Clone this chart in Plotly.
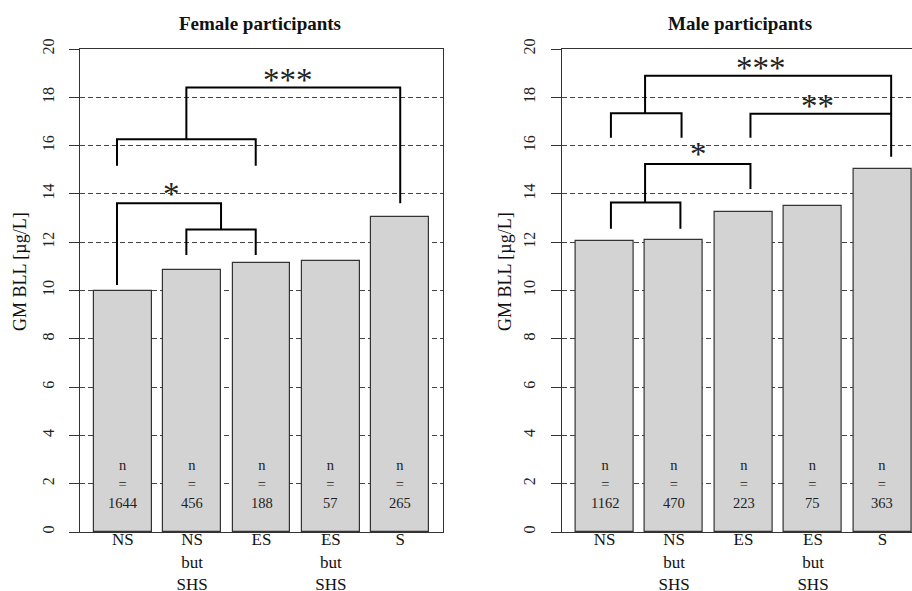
import plotly.graph_objects as go

# ---------------- data ----------------
categories = ["NS", "NS<br>but<br>SHS", "ES", "ES<br>but<br>SHS", "S"]
bar_pos = [0.7, 1.9, 3.1, 4.3, 5.5]

female_gm = [10.0, 10.85, 11.13, 11.24, 13.06]
female_n = [1644, 456, 188, 57, 265]
male_gm = [12.04, 12.09, 13.25, 13.50, 15.03]
male_n = [1162, 470, 223, 75, 363]

# brackets: [x_left, x_right, y_top, y_left_end, y_right_end]
female_brackets = [
    [0.6, 3.0, 16.26, 15.17, 15.17],
    [1.8, 5.5, 18.41, 16.26, 13.61],
    [1.8, 3.0, 12.53, 11.47, 11.47],
    [0.6, 2.4, 13.61, 10.23, 12.53],
]
female_stars = [["***", 3.55, 18.71], ["*", 1.55, 13.99]]

male_brackets = [
    [0.81, 2.03, 17.34, 16.33, 16.33],
    [1.40, 5.65, 18.89, 17.34, 15.54],
    [3.22, 5.65, 17.32, 16.33, 17.32],
    [0.81, 2.01, 13.64, 12.56, 12.56],
    [1.40, 3.22, 15.24, 13.64, 14.20],
]
male_stars = [["***", 3.41, 19.23], ["**", 4.37, 17.65], ["*", 2.32, 15.64]]

y_ticks = list(range(0, 21, 2))

FONT = "Liberation Serif"
W, H = 912, 591


def px(sx):        # screen x -> paper fraction
    return sx / W


def py(sy):        # screen y -> paper fraction
    return 1 - sy / H


fig = go.Figure()

panels = [
    ("x", "y", female_gm, female_n, female_brackets, female_stars),
    ("x2", "y2", male_gm, male_n, male_brackets, male_stars),
]
for xa, ya, gm, ns, brs, stars in panels:
    fig.add_trace(go.Bar(
        x=bar_pos, y=gm, width=1.0, xaxis=xa, yaxis=ya,
        marker=dict(color="#d3d3d3", line=dict(color="#333333", width=1.2)),
        showlegend=False, hoverinfo="skip"))
    for b in brs:
        xl, xr, yt, yle, yre = b
        fig.add_trace(go.Scatter(
            x=[xl, xl, xr, xr], y=[yle, yt, yt, yre], mode="lines",
            xaxis=xa, yaxis=ya, line=dict(color="black", width=2),
            showlegend=False, hoverinfo="skip"))
    for x, n in zip(bar_pos, ns):
        fig.add_annotation(x=x, y=2.0, xref=xa, yref=ya, text=f"n<br>=<br>{n}",
                           showarrow=False, yanchor="middle", xanchor="center",
                           font=dict(family=FONT, size=14.5, color="#222"))
    for s, x, y in stars:
        fig.add_annotation(x=x, y=y, xref=xa, yref=ya, text=s, showarrow=False,
                           yanchor="middle", xanchor="center",
                           font=dict(family=FONT, size=33, color="#222"))

ydom = [py(532), py(49)]
common_x = dict(tickvals=bar_pos, ticktext=categories, ticks="", showgrid=False,
                zeroline=False, showline=True, linecolor="#333333", linewidth=1,
                automargin=False, ticklabelstandoff=-8,
                tickfont=dict(family=FONT, size=17, color="#111"))
common_y = dict(range=[0, 20], tickvals=y_ticks, ticks="outside", ticklen=10,
                tickcolor="#333333", tickangle=-90, showgrid=True, gridcolor="#444444",
                griddash="5px,3px", gridwidth=1, zeroline=False, showline=True,
                linecolor="#333333", linewidth=1, automargin=False, ticklabelstandoff=9,
                tickfont=dict(family=FONT, size=16, color="#222"))

fig.update_layout(
    width=W, height=H, margin=dict(l=0, r=0, t=0, b=0, autoexpand=False),
    paper_bgcolor="white", plot_bgcolor="white",
    xaxis=dict(domain=[px(80), px(443)], range=[-0.04, 6.24], anchor="y", mirror=True, **common_x),
    yaxis=dict(domain=ydom, anchor="x", mirror=True, **common_y),
    xaxis2=dict(domain=[px(561.7), 1.0], range=[-0.04, 6.01], anchor="y2", mirror=True, **common_x),
    yaxis2=dict(domain=ydom, anchor="x2", mirror=False, **common_y),
    bargap=0,
)

for title, sx in [("Female participants", 260), ("Male participants", 740)]:
    fig.add_annotation(x=px(sx), y=py(23), xref="paper", yref="paper",
                       xanchor="center", yanchor="middle",
                       text=f"<b>{title}</b>", showarrow=False,
                       font=dict(family=FONT, size=19, color="#111"))
for sx in [20, 505]:
    fig.add_annotation(x=px(sx), y=py(272), xref="paper", yref="paper",
                       xanchor="center", yanchor="middle",
                       text="GM BLL [µg/L]", showarrow=False, textangle=-90,
                       font=dict(family=FONT, size=18, color="#111"))

fig.write_html(
    "out.html",
    config={"displayModeBar": False},
    post_script="document.body.style.margin='0px';document.body.style.overflow='hidden';",
)
